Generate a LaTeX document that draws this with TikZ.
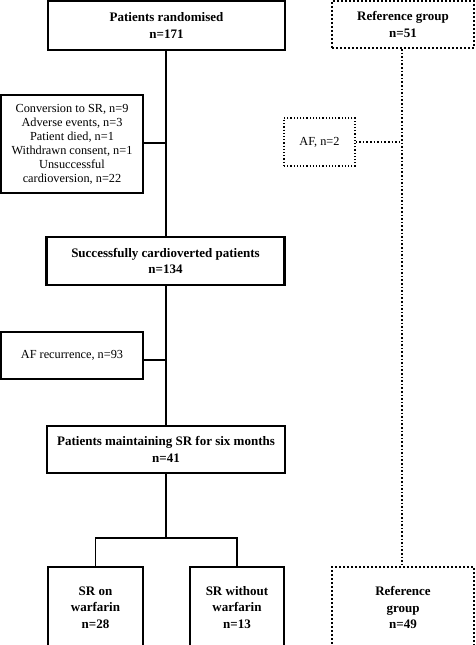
\documentclass[tikz,border=0pt]{standalone}
\usepackage{fontspec}
\setmainfont{Liberation Serif}
\usetikzlibrary{calc}
\begin{document}
\begin{tikzpicture}[x=1pt,y=-1pt,
  mainbox/.style={draw,line width=2.4pt,inner sep=0pt,align=center,font=\fontsize{13}{16.5}\selectfont\bfseries},
  sidebox/.style={draw,line width=1.4pt,inner sep=0pt,align=center,font=\fontsize{12.3}{14}\selectfont},
  refbox/.style={draw,line width=2pt,dotted,inner sep=0pt,align=center,font=\fontsize{13}{16.5}\selectfont\bfseries},
  refside/.style={draw,line width=1.2pt,dotted,inner sep=0pt,align=center,font=\fontsize{12.3}{14}\selectfont},
  conn/.style={line width=1.5pt},
  dconn/.style={line width=1.6pt,dotted}]
\useasboundingbox (0,0) rectangle (475,645);
\clip (0,0) rectangle (475,645);
\node[mainbox,minimum width=237pt,minimum height=49pt] (main1) at (166.5,25.5) {Patients randomised\\n=171};
\node[refbox,minimum width=142pt,minimum height=47pt] (ref1) at (403,24.5) {Reference group\\n=51};
\node[sidebox,minimum width=142pt,minimum height=98pt] (side1) at (72,144) {Conversion to SR, n=9\\Adverse events, n=3\\Patient died, n=1\\Withdrawn consent, n=1\\Unsuccessful\\cardioversion, n=22};
\node[refside,minimum width=71pt,minimum height=48pt] (af2) at (319.5,142) {AF, n=2};
\node[mainbox,minimum width=238pt,minimum height=48pt] (main2) at (165.5,261) {Successfully cardioverted patients\\n=134};
\node[sidebox,minimum width=142pt,minimum height=47pt] (afrec) at (72,355.5) {AF recurrence, n=93};
\node[mainbox,minimum width=238pt,minimum height=47pt] (main3) at (166,449.5) {Patients maintaining SR for six months\\n=41};
\node[mainbox,minimum width=95pt,minimum height=81pt] (war) at (95.5,607.5) {SR on\\warfarin\\n=28};
\node[mainbox,minimum width=94pt,minimum height=81pt] (nowar) at (237,607.5) {SR without\\warfarin\\n=13};
\node[refbox,minimum width=142pt,minimum height=81pt] (ref2) at (403,607.5) {Reference\\group\\n=49};
\coordinate (br) at (166,538);
\draw[conn] (main1.south -| 166,0) -- (main2.north -| 166,0);
\draw[conn] ([yshift=1pt]side1.east) -- ([yshift=1pt]side1.east -| 166,0);
\draw[conn] (main2.south -| 166,0) -- (main3.north -| 166,0);
\draw[conn] ([yshift=-4.5pt]afrec.east) -- ([yshift=-4.5pt]afrec.east -| 166,0);
\draw[conn] (main3.south -| br) -- (br);
\draw[conn] (war.north) |- (br) -| (nowar.north);
\draw[dconn] (ref1.south -| 402,0) -- (ref2.north -| 402,0);
\draw[dconn] (af2.east) -- (af2.east -| 402,0);
\end{tikzpicture}
\end{document}
